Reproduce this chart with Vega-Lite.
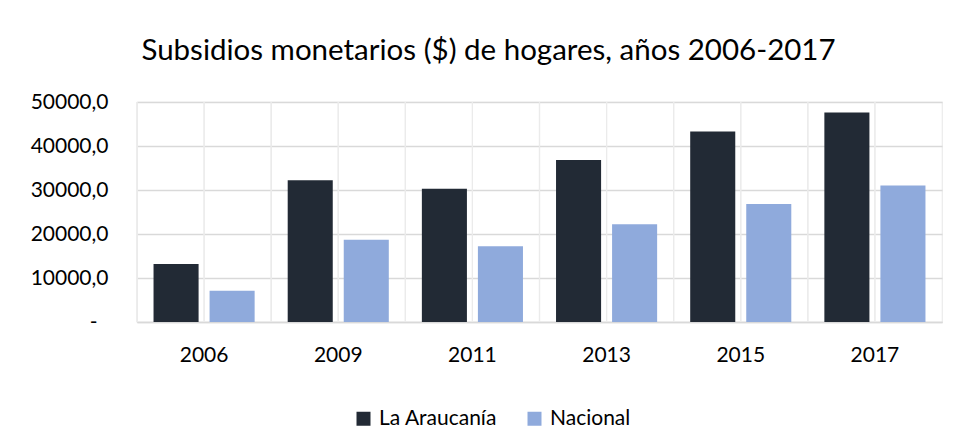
{
  "$schema": "https://vega.github.io/schema/vega-lite/v6.json",
  "width": 805,
  "height": 220,
  "autosize": {"type": "none"},
  "padding": {"left": 137, "top": 102, "right": 16, "bottom": 117},
  "background": "#ffffff",
  "config": {
    "font": "Lato",
    "view": {"stroke": "#ebebeb", "strokeWidth": 1.2},
    "axis": {"labelFont": "Lato", "labelColor": "#000000"}
  },
  "title": {
    "text": "Subsidios monetarios ($) de hogares, años 2006-2017",
    "font": "Lato",
    "fontSize": 29.5,
    "fontWeight": "normal",
    "color": "#000000",
    "anchor": "middle",
    "dx": -51,
    "baseline": "alphabetic",
    "offset": 2
  },
  "data": {
    "values": [
      {"year": "2006", "serie": "La Araucanía", "valor": 13200},
      {"year": "2006", "serie": "Nacional", "valor": 7100},
      {"year": "2009", "serie": "La Araucanía", "valor": 32200},
      {"year": "2009", "serie": "Nacional", "valor": 18700},
      {"year": "2011", "serie": "La Araucanía", "valor": 30300},
      {"year": "2011", "serie": "Nacional", "valor": 17200},
      {"year": "2013", "serie": "La Araucanía", "valor": 36800},
      {"year": "2013", "serie": "Nacional", "valor": 22200},
      {"year": "2015", "serie": "La Araucanía", "valor": 43300},
      {"year": "2015", "serie": "Nacional", "valor": 26800},
      {"year": "2017", "serie": "La Araucanía", "valor": 47600},
      {"year": "2017", "serie": "Nacional", "valor": 31000}
    ]
  },
  "layer": [
    {
      "mark": {"type": "rule", "color": "#ebebeb", "strokeWidth": 1.2},
      "encoding": {
        "x": {"field": "year", "type": "nominal", "bandPosition": 0}
      }
    },
    {
      "mark": {"type": "rule", "color": "#ebebeb", "strokeWidth": 1.2},
      "encoding": {
        "x": {"field": "year", "type": "nominal", "bandPosition": 0.5}
      }
    },
    {
      "mark": {"type": "bar"},
      "encoding": {
        "x": {
          "field": "year",
          "type": "nominal",
          "scale": {"paddingInner": 0, "paddingOuter": 0},
          "axis": {
            "title": null,
            "bandPosition": 0.5,
            "labelAngle": 0,
            "labelAlign": "center",
            "labelFontSize": 21,
            "labelPadding": 33,
            "ticks": false,
            "grid": false,
            "domain": true,
            "domainColor": "#d9d9d9",
            "domainWidth": 1.5
          }
        },
        "xOffset": {
          "field": "serie",
          "type": "nominal",
          "scale": {"domain": ["La Araucanía", "Nacional"], "paddingInner": 0.196, "paddingOuter": 0.295}
        },
        "y": {
          "field": "valor",
          "type": "quantitative",
          "scale": {"domain": [0, 50000], "nice": false},
          "axis": {
            "title": null,
            "values": [0, 10000, 20000, 30000, 40000, 50000],
            "labelExpr": "datum.value == 0 ? '-' : replace(format(datum.value, '.1f'), '.', ',')",
            "labelFontSize": 21,
            "labelPadding": {"condition": {"test": "datum.value == 0", "value": 40}, "value": 29},
            "ticks": false,
            "domain": false,
            "grid": true,
            "gridColor": "#d9d9d9",
            "gridWidth": 1.5
          }
        },
        "color": {
          "field": "serie",
          "type": "nominal",
          "scale": {"domain": ["La Araucanía", "Nacional"], "range": ["#222a35", "#8faadc"]},
          "legend": {
            "title": null,
            "orient": "none",
            "direction": "horizontal",
            "legendX": 216,
            "legendY": 306,
            "padding": 0,
            "symbolType": "square",
            "symbolSize": 196,
            "symbolStrokeWidth": 0,
            "symbolOpacity": 1,
            "labelFont": "Lato",
            "labelFontSize": 21,
            "labelColor": "#000000",
            "labelOffset": 5,
            "columnPadding": 26
          }
        }
      }
    }
  ]
}
